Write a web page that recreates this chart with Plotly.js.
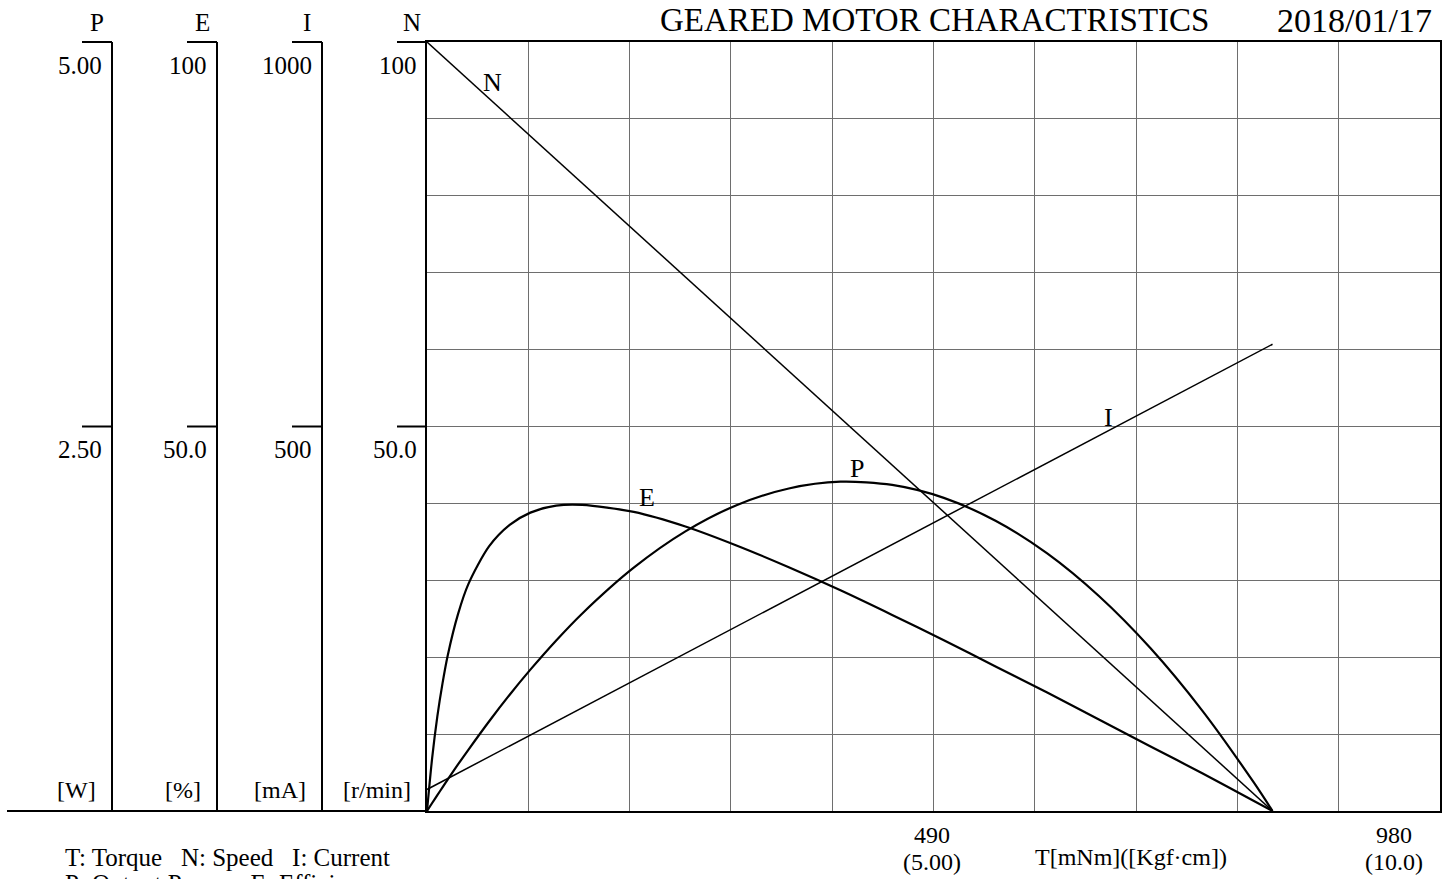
<!DOCTYPE html>
<html>
<head>
<meta charset="utf-8">
<script src="https://cdn.plot.ly/plotly-3.0.1.min.js"></script>
<style>html,body{margin:0;padding:0;background:#fff;}#chart{width:1449px;height:879px;}</style>
</head>
<body>
<div id="chart"></div>
<script>
// ---- data ----
const torqueNI = [0, 818];          // mNm
const speed = [100, 0];             // r/min
const current = [28, 607];          // mA

const torquePE = [0, 5, 10, 15, 20, 30, 40, 60, 80, 100, 125, 150, 200, 250, 300, 350, 400, 450, 500, 550, 600, 650, 700, 750, 800, 818];
const power = [0, 0.052, 0.103, 0.154, 0.204, 0.303, 0.398, 0.582, 0.756, 0.919, 1.109, 1.283, 1.582, 1.818, 1.990, 2.097, 2.141, 2.120, 2.036, 1.887, 1.675, 1.398, 1.058, 0.653, 0.184, 0];           // W
const efficiency = [0, 6.9, 12.3, 16.6, 20.2, 25.6, 29.5, 34.4, 37.2, 38.8, 39.7, 39.8, 38.9, 37.0, 34.5, 31.7, 28.7, 25.5, 22.2, 18.8, 15.4, 11.9, 8.4, 4.9, 1.3, 0];  // %

const axisNames = ['P', 'E', 'I', 'N'];
const axisTop = ['5.00', '100', '1000', '100'];
const axisMid = ['2.50', '50.0', '500', '50.0'];
const axisUnits = ['[W]', '[%]', '[mA]', '[r/min]'];
const xTickMain = ['490', '980'];
const xTickSub = ['(5.00)', '(10.0)'];
const titleText = 'GEARED MOTOR CHARACTRISTICS';
const dateText = '2018/01/17';
const xTitle = 'T[mNm]([Kgf\u00B7cm])';
const legend1 = 'T: Torque\u00A0\u00A0 N: Speed\u00A0\u00A0 I: Current';
const legend2 = 'P: Output Power\u00A0\u00A0 E: Efficiency';

// ---- layout geometry (pixels) ----
const W = 1449, H = 879;
const L = 427, R = 1440, T = 42, B = 811;
const px = v => (v - L) / (R - L);
const py = v => (B - v) / (B - T);
const FONT = "'Liberation Serif', 'Times New Roman', serif";

const axisX = [112, 217, 322, 427];

const shapes = [];
const annotations = [];
const blk = {color: '#000', width: 2};

axisX.forEach((ax, i) => {
  if (i < 3) shapes.push({type: 'line', xref: 'paper', yref: 'paper', x0: px(ax), x1: px(ax), y0: 0, y1: 1, line: blk});
  shapes.push({type: 'line', xref: 'paper', yref: 'paper', x0: px(ax - 30), x1: px(ax), y0: 1, y1: 1, line: blk});
  shapes.push({type: 'line', xref: 'paper', yref: 'paper', x0: px(ax - 30), x1: px(ax), y0: 0.5, y1: 0.5, line: blk});
  annotations.push({xref: 'paper', yref: 'paper', x: px(ax - 15), y: py(22), text: axisNames[i], showarrow: false, xanchor: 'center', yanchor: 'middle', font: {family: FONT, size: 25, color: '#000'}});
  annotations.push({xref: 'paper', yref: 'paper', x: px(ax - 8), y: py(65), text: axisTop[i], showarrow: false, xanchor: 'right', yanchor: 'middle', font: {family: FONT, size: 25, color: '#000'}});
  annotations.push({xref: 'paper', yref: 'paper', x: px(ax - 8), y: py(449), text: axisMid[i], showarrow: false, xanchor: 'right', yanchor: 'middle', font: {family: FONT, size: 25, color: '#000'}});
  annotations.push({xref: 'paper', yref: 'paper', x: px(ax - 14), y: py(790), text: axisUnits[i], showarrow: false, xanchor: 'right', yanchor: 'middle', font: {family: FONT, size: 24, color: '#000'}});
});
// bottom baseline to the left of the plot
shapes.push({type: 'line', xref: 'paper', yref: 'paper', x0: px(7), x1: 0, y0: 0, y1: 0, line: blk});

// x tick labels
[490, 980].forEach((v, i) => {
  const cx = i === 0 ? 932 : 1394;
  annotations.push({xref: 'paper', yref: 'paper', x: px(cx), y: py(835), text: xTickMain[i], showarrow: false, xanchor: 'center', yanchor: 'middle', font: {family: FONT, size: 24, color: '#000'}});
  annotations.push({xref: 'paper', yref: 'paper', x: px(cx), y: py(862), text: xTickSub[i], showarrow: false, xanchor: 'center', yanchor: 'middle', font: {family: FONT, size: 24, color: '#000'}});
});
annotations.push({xref: 'paper', yref: 'paper', x: px(1131), y: py(857), text: xTitle, showarrow: false, xanchor: 'center', yanchor: 'middle', font: {family: FONT, size: 24, color: '#000'}});
annotations.push({xref: 'paper', yref: 'paper', x: px(63), y: py(857), text: legend1, showarrow: false, xanchor: 'left', yanchor: 'middle', font: {family: FONT, size: 25, color: '#000'}});
annotations.push({xref: 'paper', yref: 'paper', x: px(63), y: py(883), text: legend2, showarrow: false, xanchor: 'left', yanchor: 'middle', font: {family: FONT, size: 25, color: '#000'}});
annotations.push({xref: 'paper', yref: 'paper', x: px(934), y: py(0), text: titleText, showarrow: false, xanchor: 'center', yanchor: 'top', font: {family: FONT, size: 33, color: '#000'}});
annotations.push({xref: 'paper', yref: 'paper', x: px(1434), y: py(0), text: dateText, showarrow: false, xanchor: 'right', yanchor: 'top', font: {family: FONT, size: 34, color: '#000'}});

// curve labels
const curveLabels = [['N', 492, 82], ['P', 857, 468], ['E', 647, 498], ['I', 1108, 417]];
curveLabels.forEach(c => annotations.push({xref: 'paper', yref: 'paper', x: px(c[1]), y: py(c[2]), text: c[0], showarrow: false, xanchor: 'center', yanchor: 'middle', font: {family: FONT, size: 26, color: '#000'}}));

const traces = [
  {x: torqueNI, y: speed, type: 'scatter', mode: 'lines', yaxis: 'y', line: {color: '#000', width: 1.5}, hoverinfo: 'skip'},
  {x: torqueNI, y: current, type: 'scatter', mode: 'lines', yaxis: 'y4', line: {color: '#000', width: 1.5}, hoverinfo: 'skip'},
  {x: torquePE, y: power, type: 'scatter', mode: 'lines', yaxis: 'y2', line: {color: '#000', width: 2.2, shape: 'spline', smoothing: 0.8}, hoverinfo: 'skip'},
  {x: torquePE, y: efficiency, type: 'scatter', mode: 'lines', yaxis: 'y3', line: {color: '#000', width: 2.2, shape: 'spline', smoothing: 0.8}, hoverinfo: 'skip'}
];

const hidden = r => ({overlaying: 'y', range: r, visible: false, fixedrange: true});

const layout = {
  width: W, height: H,
  margin: {l: L, r: W - R, t: T, b: H - B, pad: 0},
  paper_bgcolor: '#fff', plot_bgcolor: '#fff',
  showlegend: false,
  xaxis: {range: [0, 980], tick0: 0, dtick: 98, showgrid: true, gridcolor: '#6e6e6e', gridwidth: 1,
          showticklabels: false, ticks: '', zeroline: false, showline: true, linecolor: '#000', linewidth: 2, mirror: true, fixedrange: true},
  yaxis: {range: [0, 100], tick0: 0, dtick: 10, showgrid: true, gridcolor: '#6e6e6e', gridwidth: 1,
          showticklabels: false, ticks: '', zeroline: false, showline: true, linecolor: '#000', linewidth: 2, mirror: true, fixedrange: true},
  yaxis2: hidden([0, 5]),
  yaxis3: hidden([0, 100]),
  yaxis4: hidden([0, 1000]),
  shapes: shapes,
  annotations: annotations
};

Plotly.newPlot('chart', traces, layout, {staticPlot: true, displayModeBar: false});
</script>
</body>
</html>
